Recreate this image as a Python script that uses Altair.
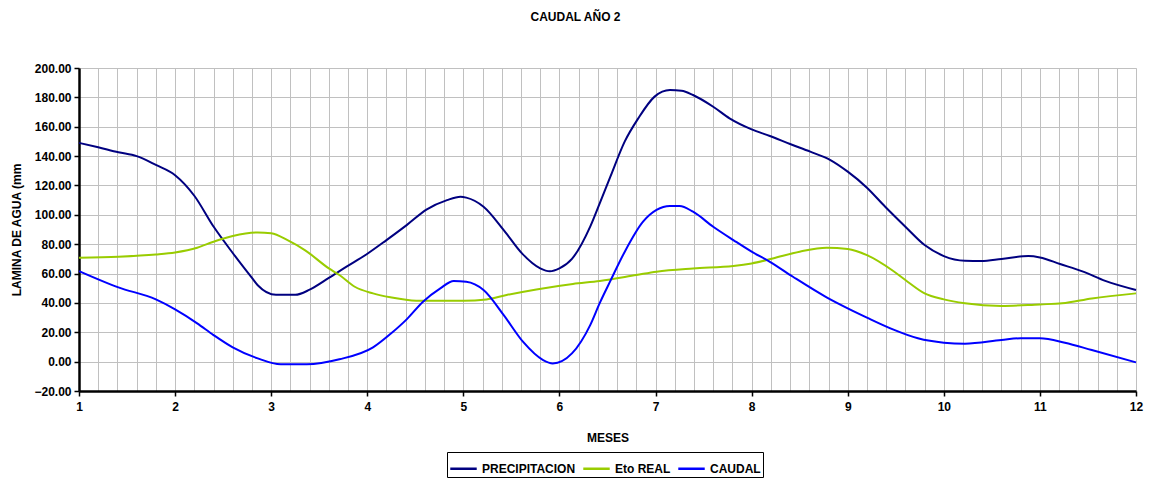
import altair as alt
import pandas as pd

# ---------------- data ----------------
series = ["PRECIPITACION", "Eto REAL", "CAUDAL"]
colors = ["#000080", "#99CC00", "#0000FF"]

prec_x = [1.0, 1.2, 1.41, 1.6, 1.8, 2.0, 2.2, 2.4, 2.6, 2.8, 2.86, 3.05, 3.25, 3.4,
          3.6, 3.78, 3.99, 4.2, 4.41, 4.62, 4.83, 4.97, 5.03, 5.21, 5.42, 5.61, 5.8, 5.9,
          6.0, 6.13, 6.32, 6.42, 6.53, 6.68, 6.82, 6.99, 7.15, 7.27, 7.39, 7.6, 7.77, 8.0,
          8.19, 8.4, 8.61, 8.82, 9.0, 9.2, 9.39, 9.6, 9.8, 10.0, 10.22, 10.39, 10.6, 10.88,
          11.0, 11.21, 11.45, 11.68, 12.0]
prec_y = [149, 146, 142.6, 140, 134, 127, 113, 92, 74, 57, 52, 45.5, 45.5, 49,
          57, 64.5, 73, 82.8, 93, 103.7, 110, 112.3, 111.7, 105.5, 89.6, 73.7, 63.5, 61.5,
          63.5, 70, 92, 108, 126, 150, 165.7, 180.5, 185, 184.5, 181.6, 173.6, 165.7, 158.2,
          153.7, 148.2, 143, 137.3, 129.4, 118.5, 105.5, 91.9, 79.4, 71.9, 68.7, 68.5, 69.9, 71.9,
          71, 66.5, 61.3, 55, 48.8]

eto_x = [1.0, 1.41, 1.8, 2.0, 2.23, 2.4, 2.6, 2.86, 3.0, 3.17, 3.35, 3.6, 3.71, 3.87, 4.06,
         4.24, 4.51, 5.0, 5.24, 5.45, 5.76, 6.14, 6.42, 6.8, 7.01, 7.39, 7.81, 8.0, 8.22,
         8.5, 8.78, 9.0, 9.2, 9.47, 9.6, 9.8, 10.0, 10.22, 10.6, 11.0, 11.23, 11.54, 12.0]
eto_y = [70.8, 71.5, 73, 74.4, 77.6, 81.7, 85.6, 88, 87.4, 82.8, 76, 63.5, 59, 51, 46.5,
         43.8, 41.5, 41.5, 42.4, 45.4, 49.2, 52.9, 54.9, 59, 61.3, 63.5, 65.1, 66.9, 70.3,
         74.9, 77.6, 76.7, 72.5, 61.9, 55.6, 46.5, 42.4, 39.7, 37.9, 39, 39.7, 43, 46.5]

caudal_x = [1.0, 1.41, 1.8, 2.0, 2.23, 2.4, 2.6, 2.86, 3.1, 3.37, 3.71, 4.06, 4.24, 4.41,
            4.58, 4.76, 4.9, 5.03, 5.21, 5.42, 5.62, 5.83, 5.93, 6.13, 6.32, 6.42, 6.53,
            6.68, 6.87, 7.01, 7.15, 7.25, 7.39, 7.6, 7.81, 8.0, 8.19, 8.43, 8.78, 9.0, 9.2,
            9.47, 9.73, 10.0, 10.22, 10.6, 10.8, 11.0, 11.26, 11.54, 12.0]
caudal_y = [61.7, 50.6, 42.4, 35.6, 26.1, 18.1, 9.7, 2.2, -1.8, -1.8, 1.6, 9.7, 18.8, 28.8,
            40.8, 49.9, 54.9, 54.4, 48.8, 31.7, 13.6, 1.1, -1.2, 5.6, 24.9, 40, 55,
            74.9, 95.3, 103.3, 106, 106, 102.1, 91.9, 82.8, 74.9, 68, 57.8, 43.8, 36.3, 30,
            22, 15.9, 12.9, 12.2, 14.7, 15.9, 15.9, 12.9, 7.9, -0.5]

x_ticks = [1, 2, 3, 4, 5, 6, 7, 8, 9, 10, 11, 12]
x_grid = [round(1 + 0.2 * i, 1) for i in range(56)]
y_ticks = [-20, 0, 20, 40, 60, 80, 100, 120, 140, 160, 180, 200]

rows = []
for name, xs, ys in [(series[0], prec_x, prec_y), (series[1], eto_x, eto_y),
                     (series[2], caudal_x, caudal_y)]:
    rows += [{"mes": x, "valor": y, "serie": name} for x, y in zip(xs, ys)]
df = pd.DataFrame(rows)

FONT = "Liberation Sans"
x_scale = alt.Scale(domain=[1, 12], nice=False, zero=False)
y_scale = alt.Scale(domain=[-20, 200], nice=False, zero=False)

y_axis = alt.Axis(values=y_ticks, format=".2f", grid=True, gridColor="#c0c0c0",
                  gridWidth=1, orient="left",
                  title="LAMINA DE AGUA (mm", titleFont=FONT, titleFontSize=12,
                  titleFontWeight="bold", titleColor="black", titlePadding=10,
                  labelFont=FONT, labelFontSize=12, labelFontWeight="bold",
                  labelColor="black", labelPadding=3,
                  domainColor="black", domainWidth=2.5,
                  tickColor="black", tickSize=5, tickWidth=1.5)

grid_layer = alt.Chart(df).mark_line(opacity=0).encode(
    x=alt.X("mes:Q", scale=x_scale,
            axis=alt.Axis(values=x_grid, labels=False, ticks=False, domain=False,
                          title=None, grid=True, gridColor="#c0c0c0", gridWidth=1,
                          orient="bottom")),
    y=alt.Y("valor:Q", scale=y_scale, axis=y_axis),
)

lines = alt.Chart(df).mark_line(strokeWidth=2, interpolate="monotone").encode(
    x=alt.X("mes:Q", scale=x_scale,
            axis=alt.Axis(values=x_ticks, format="d", grid=False, orient="bottom",
                          title="MESES", titleFont=FONT, titleFontSize=12,
                          titleFontWeight="bold", titleColor="black", titlePadding=20,
                          labelFont=FONT, labelFontSize=12, labelFontWeight="bold",
                          labelColor="black", labelPadding=5, labelFlush=False,
                          domainColor="black", domainWidth=2.5,
                          tickColor="black", tickSize=5, tickWidth=1.5)),
    y=alt.Y("valor:Q", scale=y_scale, axis=y_axis),
    color=alt.Color("serie:N", sort=series,
                    scale=alt.Scale(domain=series, range=colors),
                    legend=alt.Legend(title=None, orient="none", direction="horizontal",
                                      legendX=368, legendY=384,
                                      symbolType="stroke", symbolSize=700,
                                      symbolStrokeWidth=2.5,
                                      labelFont=FONT, labelFontSize=12,
                                      labelFontWeight="bold", labelColor="black",
                                      labelOffset=4, columnPadding=2,
                                      strokeColor="black", padding=2)),
)

chart = alt.layer(grid_layer, lines).resolve_axis(x="independent").properties(
    width=1057,
    height=323,
    title=alt.TitleParams("CAUDAL AÑO 2", font=FONT, fontSize=12, fontWeight="bold",
                          color="black", anchor="middle", dx=-32, offset=38),
    autosize=alt.AutoSizeParams(type="none"),
    padding={"left": 71, "top": 60, "right": 8, "bottom": 90},
).configure_view(stroke="#808080", strokeWidth=1).configure(background="white")

chart.save("out.html", embed_options={"renderer": "svg", "actions": False})
